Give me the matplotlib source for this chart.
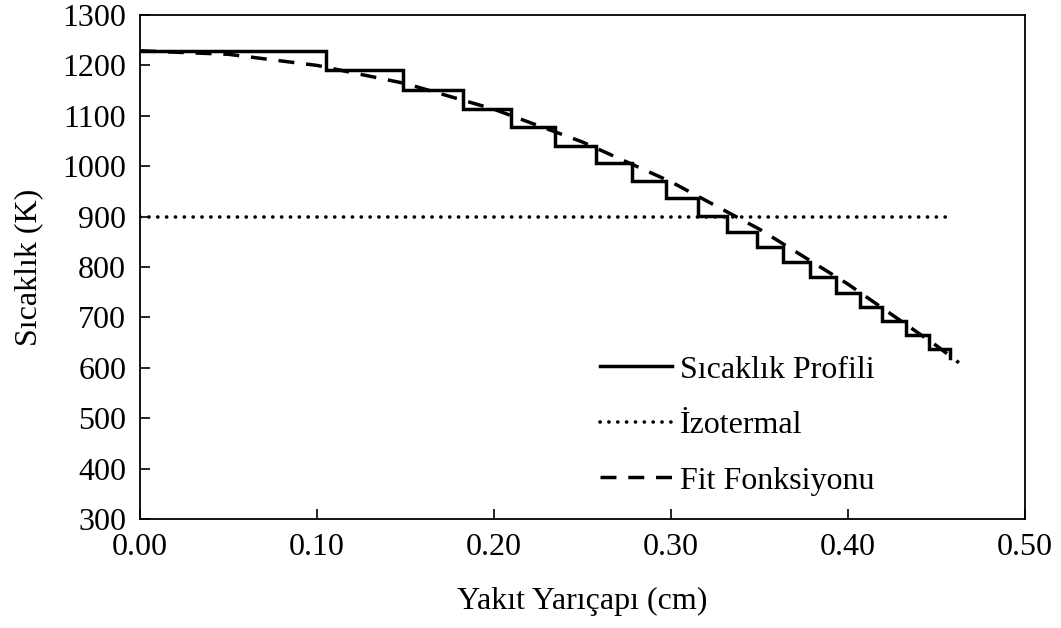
import matplotlib
matplotlib.use("Agg")
import matplotlib.pyplot as plt

plt.rcParams['font.family'] = ['Liberation Serif', 'DejaVu Serif']
plt.rcParams['font.size'] = 23

# Step temperature profile: ring edges (cm) and temperature of each ring (K)
step_edges = [0.0, 0.1053, 0.1486, 0.1825, 0.2097, 0.2347, 0.2578, 0.2777,
              0.2973, 0.3154, 0.3319, 0.3484, 0.3635, 0.3785, 0.3932,
              0.4069, 0.4195, 0.4327, 0.4459, 0.4577]
step_temps = [1229, 1191, 1152, 1113, 1077, 1041, 1006, 971, 936, 902,
              870, 840, 809, 780, 749, 721, 692, 665, 637]
step_end_temp = 619

# Isothermal reference
iso_r = [0.0, 0.457]
iso_T = [900, 900]

# Fitted profile
fit_r = [0.0, 0.05, 0.10, 0.15, 0.20, 0.25, 0.30, 0.35, 0.40, 0.45, 0.4627]
fit_T = [1229, 1222, 1200, 1164, 1113, 1048, 969, 875, 766, 644, 610]

x_ticks = [0.0, 0.1, 0.2, 0.3, 0.4, 0.5]
y_ticks = [300, 400, 500, 600, 700, 800, 900, 1000, 1100, 1200, 1300]

# build the staircase path
sx, sy = [], []
for i, t in enumerate(step_temps):
    sx += [step_edges[i], step_edges[i + 1]]
    sy += [t, t]
sx.append(step_edges[-1])
sy.append(step_end_temp)

fig = plt.figure(figsize=(10.61, 6.28), dpi=100)
ax = fig.add_axes([0.132, 0.1736, 0.834, 0.8025])

ax.plot(sx, sy, color='black', lw=2.5, solid_joinstyle='miter',
        label='Sıcaklık Profili')
ax.plot(iso_r, iso_T, color='black', lw=2.6, linestyle=(0, (0.05, 2.4)),
        dash_capstyle='round', label='İzotermal')
ax.plot(fit_r, fit_T, color='black', lw=2.5, linestyle=(0, (4.6, 3.4)),
        label='Fit Fonksiyonu')

ax.set_xlim(0, 0.5)
ax.set_ylim(300, 1300)
ax.set_xticks(x_ticks)
ax.set_yticks(y_ticks)
ax.xaxis.set_major_formatter(matplotlib.ticker.FormatStrFormatter('%.2f'))
ax.tick_params(direction='in', length=7, width=1.2, pad=10, labelsize=23)
for s in ax.spines.values():
    s.set_linewidth(1.3)

ax.set_xlabel('Yakıt Yarıçapı (cm)', fontsize=23, labelpad=18)
ax.set_ylabel('Sıcaklık (K)', fontsize=23, labelpad=14)

leg = ax.legend(loc='upper left', bbox_to_anchor=(0.52, 0.325),
                frameon=False, handlelength=2.25, handletextpad=0.25,
                labelspacing=0.82, fontsize=23, borderaxespad=0,
                borderpad=0)

fig.savefig('out.png', dpi=100)
